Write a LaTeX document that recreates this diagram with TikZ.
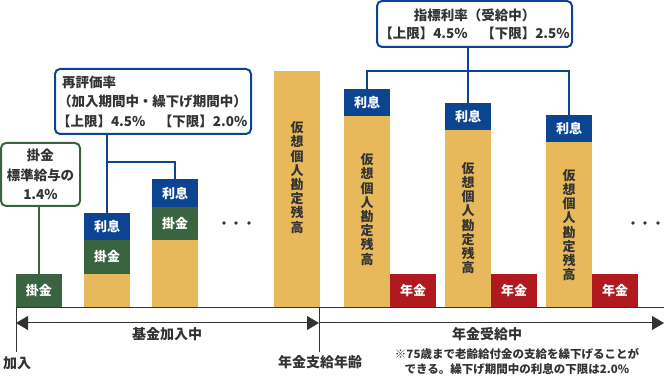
\documentclass[tikz,border=0pt]{standalone}
\usepackage{fontspec}
\setmainfont{Noto Sans CJK JP}
\usetikzlibrary{arrows.meta}

\definecolor{kgreen}{HTML}{3A6440}
\definecolor{kblue}{HTML}{0B4592}
\definecolor{kyellow}{HTML}{E8B95A}
\definecolor{kred}{HTML}{B0191E}
\definecolor{ktext}{HTML}{333333}

\tikzset{
  blk/.style={fill=#1, minimum width=46pt, inner sep=0pt, outer sep=0pt,
    anchor=north west, text=white, font=\bfseries\fontsize{13}{13}\selectfont},
  tate/.style={align=center, text=ktext, inner sep=0pt,
    font=\bfseries\fontsize{13}{14.2}\selectfont},
  callout/.style={draw=#1, line width=2pt, rounded corners=5pt, outer sep=0pt,
    anchor=north west, text=ktext, font=\bfseries\fontsize{13.5}{19.5}\selectfont},
  lbl/.style={text=ktext, inner sep=0pt, font=\bfseries\fontsize{14}{14}\selectfont},
  axtip/.tip={Triangle[length=12pt,width=14pt]}
}

\begin{document}
\begin{tikzpicture}[x=1pt,y=-1pt]
\useasboundingbox (0,0) rectangle (665,390);

% bars before pension age
\node[blk=kgreen, minimum height=34pt] (k1) at (16,274) {掛金};

\node[blk=kyellow, minimum height=34pt] (y2) at (84,274) {};
\node[blk=kgreen, minimum height=34pt] (k2) at (84,240) {掛金};
\node[blk=kblue, minimum height=27pt] (i2) at (84,213) {利息};

\node[blk=kyellow, minimum height=68pt] (y3) at (152,240) {};
\node[blk=kgreen, minimum height=33pt] (k3) at (152,207) {掛金};
\node[blk=kblue, minimum height=28pt] (i3) at (152,179) {利息};

\node[blk=kyellow, minimum height=237pt] (y4) at (274,71) {};
\node[tate] (t4) at (297,177.5) {仮\\想\\個\\人\\勘\\定\\残\\高};

% bars after pension age
\node[blk=kyellow, minimum height=192pt] (y5) at (344,116) {};
\node[blk=kblue, minimum height=27pt] (i5) at (344,89) {利息};
\node[blk=kred, minimum height=34pt] (r5) at (390,274) {年金};
\node[tate] (t5) at (367,209.5) {仮\\想\\個\\人\\勘\\定\\残\\高};

\node[blk=kyellow, minimum height=178pt] (y6) at (445,130) {};
\node[blk=kblue, minimum height=27pt] (i6) at (445,103) {利息};
\node[blk=kred, minimum height=34pt] (r6) at (491,274) {年金};
\node[tate] (t6) at (468,218) {仮\\想\\個\\人\\勘\\定\\残\\高};

\node[blk=kyellow, minimum height=166pt] (y7) at (546,142) {};
\node[blk=kblue, minimum height=27pt] (i7) at (546,115) {利息};
\node[blk=kred, minimum height=34pt] (r7) at (592,274) {年金};
\node[tate] (t7) at (569,225) {仮\\想\\個\\人\\勘\\定\\残\\高};

% dots
\foreach \x in {224,236,249,633,645,658}
  \fill[ktext] (\x,223) circle (1.8pt);

% callouts
\node[callout=kgreen, minimum width=79pt, minimum height=63pt, align=center,
  inner sep=0pt] (gc) at (1,143) {掛金\\標準給与の\\1.4\%};
\node[callout=kblue, minimum height=65pt, text width=192pt, inner xsep=2pt,
  inner ysep=0pt, align=left] (bc1) at (55,69)
  {\hspace*{5pt}再評価率\\\hspace*{1pt}（加入期間中・繰下げ期間中）\\【上限】4.5\%　【下限】2.0\%};
\node[callout=kblue, minimum width=195pt, minimum height=46pt, align=center,
  inner sep=0pt, font=\bfseries\fontsize{13.5}{18}\selectfont] (bc2) at (377,1)
  {指標利率（受給中）\\【上限】4.5\%　【下限】2.5\%};

\draw[kgreen, line width=2pt] (k1.north) -- (k1.north |- gc.south);
\draw[kblue, line width=2pt] (i2.north) -- (i2.north |- bc1.south);
\coordinate (b1) at (108,162);
\draw[kblue, line width=2pt] (b1) -| (i3.north);
\draw[kblue, line width=2pt] (i6.north) -- (i6.north |- bc2.south);
\coordinate (b2) at (468,71);
\draw[kblue, line width=2pt] (i5.north) |- (b2) -| (i7.north);

% time axis
\coordinate (s0) at (16,308);
\coordinate (s1) at (664,308);
\coordinate (p0) at (16,323);
\coordinate (p1) at (319,323);
\coordinate (p2) at (664,323);
\draw[ktext, line width=1pt] (s0) -- (s1);
\draw[ktext, line width=1pt] (s0) -- ++(0,44);
\draw[ktext, line width=1pt] (s0 -| p1) -- ++(0,44);
\draw[ktext, line width=1pt, axtip-axtip] (p0) -- (p1);
\draw[ktext, line width=1pt, -axtip] (p1) -- (p2);

\node[lbl] (l1) at (167,334) {基金加入中};
\node[lbl] (l2) at (487,334) {年金受給中};
\node[lbl] (l3) at (17,363) {加入};
\node[lbl] (l4) at (320,362) {年金支給年齢};
\node[text=ktext, inner sep=0pt, align=center,
  font=\bfseries\fontsize{11.5}{15}\selectfont] (nt) at (517,362)
  {※75歳まで老齢給付金の支給を繰下げることが\\できる。繰下げ期間中の利息の下限は2.0\%};
\end{tikzpicture}
\end{document}
